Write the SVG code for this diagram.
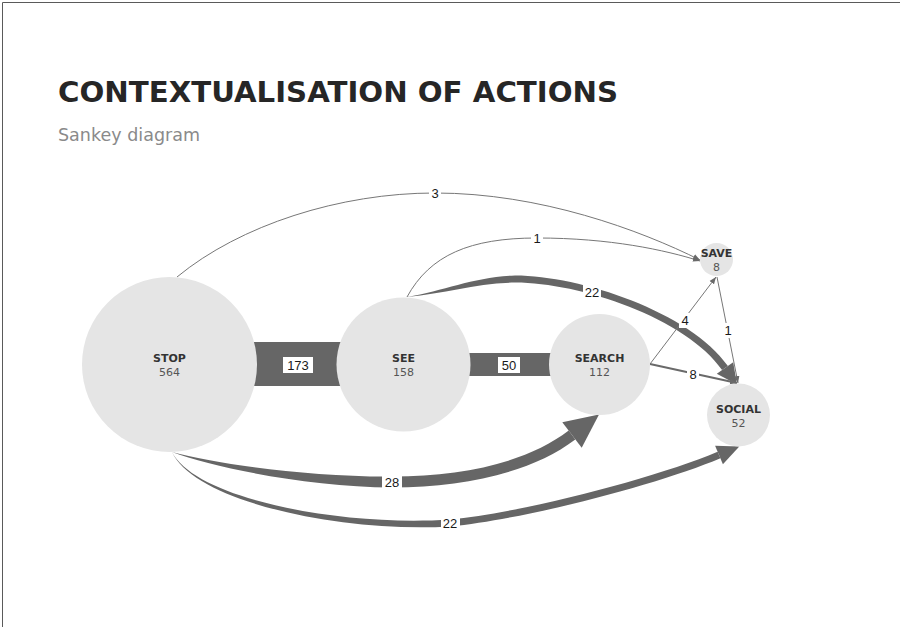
<svg xmlns="http://www.w3.org/2000/svg" width="900" height="627" viewBox="0 0 900 627">
<defs>
<style>
.frame{fill:none;stroke:#5a5a5a;stroke-width:1}
.title{font-family:"DejaVu Sans",Verdana,sans-serif;font-weight:bold;font-size:28px;fill:#262626}
.sub{font-family:"DejaVu Sans",Verdana,sans-serif;font-size:17px;fill:#8a8a8a}
.node{fill:#e5e5e5}
.nl{font-family:"DejaVu Sans",Verdana,sans-serif;font-weight:bold;font-size:11px;fill:#333;text-anchor:middle}
.nv{font-family:"DejaVu Sans",Verdana,sans-serif;font-size:11px;fill:#555;text-anchor:middle}
.flow{fill:#666;stroke:none}
.thin{fill:none;stroke:#777;stroke-width:1}
.mid{fill:none;stroke:#6a6a6a;stroke-width:2}
.lb{fill:#fff}
.lt{font-family:"Liberation Sans",Arial,sans-serif;font-size:13px;fill:#1a1a1a;text-anchor:middle}
</style>
<marker id="arr" viewBox="0 0 10 10" refX="10" refY="5" markerWidth="7" markerHeight="7" markerUnits="userSpaceOnUse" orient="auto">
<path d="M0,1 L10,5 L0,9 z" fill="#6a6a6a"/>
</marker>
</defs>
<rect width="900" height="627" fill="#fff"/>
<path class="frame" d="M2.5,627 V2.5 H900"/>
<text class="title" x="58" y="102" textLength="560" lengthAdjust="spacingAndGlyphs">CONTEXTUALISATION OF ACTIONS</text>
<text class="sub" x="58" y="141" textLength="142" lengthAdjust="spacingAndGlyphs">Sankey diagram</text>

<g id="connectors">
<!-- STOP -> SEE -->
<rect class="flow" x="250" y="342" width="95" height="44"/>
<!-- SEE -> SEARCH -->
<rect class="flow" x="465" y="353" width="90" height="23"/>
<!-- STOP -> SEARCH (28) -->
<path class="flow" d="M172,452 C215.5,463.9 310.3,477.1 392,476.5 C464.4,476.5 527.8,462 568.7,430.6 L575.3,439.4 C532.2,472 465.6,487.5 392,487.5 C309.7,486.9 214.5,468.1 172,452 Z"/>
<polygon class="flow" points="599,414.5 562.3,422.3 581.7,447.7"/>
<!-- STOP -> SOCIAL (22) -->
<path class="flow" d="M172,452 C195.6,498.7 340.3,526.9 449.8,519.5 C529.3,511.6 658.9,476.7 717.6,451.8 L720.4,458.2 C661.1,483.3 530.7,518.4 450.2,526.5 C339.7,533.1 194.4,501.3 172,452 Z"/>
<polygon class="flow" points="739.3,446.4 715.1,445.8 722.9,464.2"/>
<!-- SEE -> SOCIAL (22) -->
<path class="flow" d="M407,297 C444.7,290.6 474.4,276.9 515,275.5 C580.7,275.6 689.8,312 727.9,366 L722.1,370 C686.2,318 579.3,282.4 515,282.5 C475.6,283.1 445.3,293.4 407,297 Z"/>
<polygon class="flow" points="737,384.5 733.2,362.3 716.8,373.7"/>
<!-- thin links -->
<path class="thin" d="M177,277 C240,225 340,193 435,193 C540,193 640,230 700,260" marker-end="url(#arr)"/>
<path class="thin" d="M407,297 C430,255 470,238 537,238 C610,238 665,250 700,261" marker-end="url(#arr)"/>
<path class="thin" d="M650,364 L716,277" marker-end="url(#arr)"/>
<path class="thin" d="M717,277 L738,383" marker-end="url(#arr)"/>
<path class="mid" d="M650,364 L737,383" marker-end="url(#arr)"/>
<!-- labels -->
<rect class="lb" x="283" y="357" width="30" height="16"/><text class="lt" x="298" y="370">173</text>
<rect class="lb" x="498" y="357" width="22" height="16"/><text class="lt" x="509" y="370">50</text>
<rect class="lb" x="429" y="186" width="12" height="15"/><text class="lt" x="435" y="198">3</text>
<rect class="lb" x="531" y="231" width="12" height="15"/><text class="lt" x="537" y="243">1</text>
<rect class="lb" x="583" y="285" width="18" height="15"/><text class="lt" x="592" y="297">22</text>
<rect class="lb" x="679" y="313" width="12" height="15"/><text class="lt" x="685" y="325">4</text>
<rect class="lb" x="722" y="323" width="12" height="15"/><text class="lt" x="728" y="335">1</text>
<rect class="lb" x="687" y="367" width="12" height="15"/><text class="lt" x="693" y="379">8</text>
<rect class="lb" x="382" y="475" width="20" height="15"/><text class="lt" x="392" y="487">28</text>
<rect class="lb" x="441" y="516" width="19" height="15"/><text class="lt" x="450" y="528">22</text>
</g>

<g id="node-stop">
<circle class="node" cx="169.5" cy="364.5" r="87.5"/>
<text class="nl" x="169.5" y="362">STOP</text>
<text class="nv" x="169.5" y="376">564</text>
</g>
<g id="node-see">
<circle class="node" cx="403.5" cy="364.5" r="67"/>
<text class="nl" x="403.5" y="362">SEE</text>
<text class="nv" x="403.5" y="376">158</text>
</g>
<g id="node-search">
<circle class="node" cx="599.5" cy="364.5" r="50.5"/>
<text class="nl" x="599.5" y="362">SEARCH</text>
<text class="nv" x="599.5" y="376">112</text>
</g>
<g id="node-save">
<circle class="node" cx="716.5" cy="259.5" r="16.5"/>
<text class="nl" x="716.5" y="257">SAVE</text>
<text class="nv" x="716.5" y="270.5">8</text>
</g>
<g id="node-social">
<circle class="node" cx="738.5" cy="415" r="31.5"/>
<text class="nl" x="738.5" y="412.5">SOCIAL</text>
<text class="nv" x="738.5" y="426.5">52</text>
</g>
</svg>
